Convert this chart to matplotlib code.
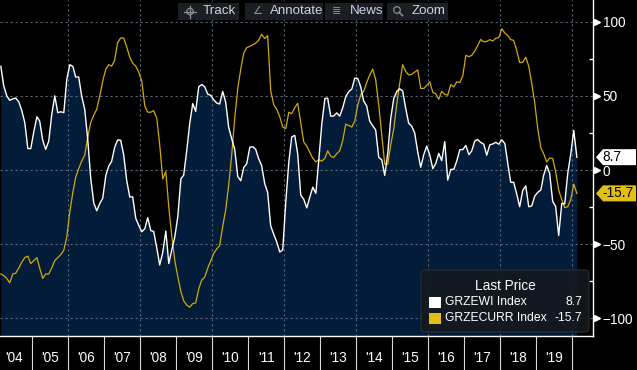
"""ZEW Germany: economic sentiment vs current situation, terminal-style chart."""
import pandas as pd
import matplotlib
matplotlib.use("Agg")
import matplotlib.pyplot as plt
import matplotlib.dates as mdates
import matplotlib.ticker as mticker
from matplotlib.patches import Polygon, FancyBboxPatch, Rectangle, Circle
from matplotlib.lines import Line2D
from matplotlib.transforms import blended_transform_factory, offset_copy, IdentityTransform

plt.rcParams["font.family"] = ["Liberation Sans", "DejaVu Sans"]

# monthly readings, Feb 2004 .. Feb 2020
zew_expect = [
    69.9, 57.0, 50.0, 47.0, 48.0, 48.5, 46.0, 40.0, 32.0, 14.5, 14.5,
    26.0, 35.9, 33.0, 20.1, 13.9, 19.5, 37.0, 50.0, 38.6, 39.3, 38.7, 61.1,
    71.0, 69.8, 62.7, 62.7, 50.0, 41.0, 21.3, -5.6, -22.2, -27.4, -22.5, -19.0,
    -3.6, 2.9, 5.8, 15.3, 20.3, 20.1, 10.4, -6.9, -18.1, -18.1, -32.5, -37.2,
    -41.6, -39.5, -32.0, -40.7, -41.4, -52.4, -63.9, -55.5, -41.1, -63.0, -53.5, -45.2,
    -31.0, -5.8, -3.5, 13.0, 31.1, 44.8, 39.5, 56.1, 57.7, 56.0, 51.1, 50.4,
    47.2, 45.1, 44.5, 53.0, 45.8, 28.7, 21.2, 14.0, -4.3, -7.2, 1.8, 4.3,
    15.4, 15.7, 14.1, 7.6, 3.1, -9.0, -15.1, -37.6, -43.3, -48.3, -55.2, -53.8,
    -21.6, 5.4, 22.3, 23.4, 10.8, -16.9, -19.6, -25.5, -18.2, -11.5, -15.7, 6.9,
    31.5, 48.2, 48.5, 36.3, 36.4, 38.5, 36.3, 42.0, 49.6, 52.8, 54.6, 62.0,
    61.7, 55.7, 46.6, 43.2, 33.1, 29.8, 27.1, 8.6, 6.9, -3.6, 11.5, 34.9,
    48.4, 53.0, 54.8, 53.3, 41.9, 31.5, 29.7, 25.0, 12.1, 1.9, 10.4, 16.1,
    10.2, 1.0, 4.3, 11.2, 6.4, 19.2, -6.8, 0.5, 0.5, 6.2, 13.8, 13.8,
    16.6, 10.4, 12.8, 19.5, 20.6, 18.6, 17.5, 10.0, 17.0, 17.6, 18.7, 17.4,
    20.4, 17.8, 5.1, -8.2, -8.2, -16.1, -24.7, -13.7, -10.6, -24.7, -24.1, -17.5,
    -15.0, -13.4, -3.6, 3.1, -2.1, -21.1, -24.5, -44.1, -22.5, -22.8, -2.1, 10.7,
    26.7, 8.7,
]
zew_current = [
    -70, -71, -73, -76, -70, -69.5, -66, -62, -59, -58, -63,
    -61, -59, -66, -73, -70, -70, -66, -61, -59, -57, -54, -45,
    -28, -15, -5, 1, 6, 10, 22, 32, 37, 41, 50, 60,
    68, 71, 70, 74, 86, 89, 89, 83, 76, 72, 70, 66,
    60, 43, 39, 39, 40, 35, 17, -6, -1, -25, -45, -61,
    -72, -82, -88, -91, -92.4, -90, -89.5, -80, -74, -72, -66, -61,
    -56, -53, -51, -38, -27, -10, 10, 35, 55, 68, 79, 82.5,
    83.4, 84.5, 85.5, 87.5, 91.5, 88.6, 90.6, 53.5, 44, 41, 36, 29,
    28, 39, 38, 42, 45, 32, 19, 16, 12, 8, 5.5, 7,
    6, 8, 13, 9.4, 8.5, 11, 13, 20, 31, 30, 29, 33,
    44, 51, 53, 59, 64, 68, 61, 44, 24, 4, 4, 17,
    28, 45, 58, 71, 66.5, 64, 64.5, 66, 67.5, 55, 55, 57,
    59.5, 52.3, 51.5, 47.7, 53.1, 51, 50.5, 57.6, 56, 59.5, 59, 63.5,
    77.3, 76.4, 77.3, 80.1, 83.9, 88.0, 86.4, 86.7, 87.9, 87.0, 88.8, 89.3,
    95.2, 92.3, 90.7, 87.9, 87.4, 80.6, 72.4, 72.6, 76.0, 70.1, 58.2, 45.3,
    27.6, 15.0, 11.1, 5.5, 8.2, 7.8, -1.1, -13.5, -19.9, -25.3, -24.7, -19.9,
    -9.5, -15.7,
]
series_names = ["GRZEWI Index", "GRZECURR Index"]
last_values = [8.7, -15.7]
year_labels = ["'04", "'05", "'06", "'07", "'08", "'09", "'10", "'11",
               "'12", "'13", "'14", "'15", "'16", "'17", "'18", "'19"]
y_ticks = [-100, -50, 0, 50, 100]
y_minor = [-75, -25, 25, 75]
toolbar = ["Track", "Annotate", "News", "Zoom"]

NAVY = "#021c3a"
GOLD = "#d2a90a"
TAG_GOLD = "#e2bf17"
GRID = "#5d6876"
ICON = "#8a9199"

dates = pd.date_range("2004-02-01", periods=len(zew_expect), freq="MS") + pd.Timedelta(days=14)
mid_years = pd.date_range("2004-07-01", periods=len(year_labels), freq="12MS")
even_years = pd.date_range("2006-01-01", "2020-01-01", freq="2YS")

W, H = 637, 370
fig = plt.figure(figsize=(W / 100, H / 100), dpi=100, facecolor="black")
ax = fig.add_axes([0, 34 / H, 593 / W, 336 / H], facecolor="black")

x0 = mdates.date2num(pd.Timestamp("2004-01-01"))
px_per_day = 36 / 365.25
ax.set_xlim(x0 + 3.6 / px_per_day, x0 + 596.6 / px_per_day)
ymin, ymax = -111.8, 114.6
ax.set_ylim(ymin, ymax)

ax.fill_between(dates, zew_expect, ymin, color=NAVY, lw=0, zorder=1)
for v in y_ticks:
    ax.axhline(v, color=GRID, lw=0.8, ls=(0, (2, 2.5)), zorder=2)
for d in even_years:
    ax.axvline(d, color=GRID, lw=0.8, ls=(0, (2, 2.5)), zorder=2)
ax.plot(dates, zew_current, color=GOLD, lw=0.9, zorder=3)
ax.plot(dates, zew_expect, color="white", lw=1.0, zorder=4)

for s in ["left", "top"]:
    ax.spines[s].set_visible(False)
for s in ["right", "bottom"]:
    ax.spines[s].set_color("white")
    ax.spines[s].set_linewidth(1)

# x axis: long separators at year starts, labels mid-year
ax.xaxis.set_major_locator(mdates.YearLocator(1))
ax.xaxis.set_major_formatter(mticker.NullFormatter())
ax.set_xticks(mid_years, minor=True)
ax.set_xticklabels(year_labels, minor=True)
ax.tick_params(axis="x", which="major", direction="out", length=24.5, width=0.8, color="#d8d8d8")
ax.tick_params(axis="x", which="minor", length=0, pad=11, labelcolor="white", labelsize=9.8)

# y axis on the right
ax.yaxis.tick_right()
ax.set_yticks(y_ticks)
ax.set_yticks(y_minor, minor=True)
ax.yaxis.set_major_formatter(mticker.FuncFormatter(lambda v, p: f"{v:g}".replace("-", "\u2212")))
ax.tick_params(axis="y", which="major", length=0, pad=7, labelcolor="white", labelsize=9.8)
ax.tick_params(axis="y", which="minor", direction="in", length=3, width=1, color="white")
tri = offset_copy(blended_transform_factory(ax.transAxes, ax.transData), fig=fig, x=3.5, y=0, units="dots")
ax.plot([1] * len(y_ticks), y_ticks, ls="none", marker=">", ms=5, color="white",
        transform=tri, clip_on=False, zorder=5)

ident = IdentityTransform()

# last price tags on the axis
for val, fc in zip(last_values, ["white", TAG_GOLD]):
    yd = ax.transData.transform((ax.get_xlim()[0], val))[1]
    pts = [(596, yd), (603, yd + 8), (636, yd + 8), (636, yd - 8), (603, yd - 8)]
    fig.add_artist(Polygon(pts, closed=True, transform=ident, fc=fc, ec="none", zorder=5))
    fig.text(602, yd, f"{val:g}", transform=ident, color="black", fontsize=9.8,
             ha="left", va="center", zorder=6)

# legend box
fig.add_artist(FancyBboxPatch((421, H - 332), 168, 62, boxstyle="round,pad=0,rounding_size=4",
                              transform=ident, fc="#15191e", ec="#2c3137", lw=0.8, alpha=0.9, zorder=5))
fig.text(505, H - 286, "Last Price", transform=ident, color="white", fontsize=9.8,
         ha="center", va="center", zorder=6)
for i, (name, val, col) in enumerate(zip(series_names, last_values, ["white", TAG_GOLD])):
    yc = H - 302 - 16 * i
    fig.add_artist(Rectangle((429, yc - 5.5), 12, 11, transform=ident, fc=col, ec="none", zorder=6))
    fig.text(445, yc, name, transform=ident, color="white", fontsize=8.7, ha="left", va="center", zorder=6)
    fig.text(582, yc, f"{val:g}", transform=ident, color="white", fontsize=8.7, ha="right", va="center", zorder=6)

# toolbar overlay
boxes = [(178, 61), (245, 78), (325, 58), (387, 61)]
yb = H - 11.5
for (bx, bw), label in zip(boxes, toolbar):
    fig.add_artist(Rectangle((bx, H - 20), bw, 17, transform=ident, fc="#1b1e23", ec="none", zorder=5))
    fig.text(bx + 25, yb, label, transform=ident, color="#c9d3e2", fontsize=9.6,
             ha="left", va="center", zorder=6)

# crosshair icon (no installed font has the glyph)
cx = 190
fig.add_artist(Circle((cx, yb), 3.2, transform=ident, fc="none", ec=ICON, lw=0.9, zorder=6))
fig.add_artist(Line2D([cx - 6, cx + 6], [yb, yb], transform=ident, color=ICON, lw=0.9, zorder=6))
fig.add_artist(Line2D([cx, cx], [yb - 6, yb + 6], transform=ident, color=ICON, lw=0.9, zorder=6))
# annotate and news icons
fig.text(257, yb, "\u2220", transform=ident, color=ICON, fontsize=8, family=["DejaVu Sans"],
         ha="center", va="center", zorder=6)
fig.text(337, yb, "\u2263", transform=ident, color=ICON, fontsize=8, family=["DejaVu Sans"],
         ha="center", va="center", zorder=6)
# magnifier icon
mx = 397
fig.add_artist(Circle((mx, yb + 1.5), 3.3, transform=ident, fc="none", ec=ICON, lw=0.9, zorder=6))
fig.add_artist(Line2D([mx + 2.4, mx + 5.5], [yb - 0.9, yb - 4.2], transform=ident, color=ICON, lw=1.1, zorder=6))

plt.savefig("out.png", dpi=100, facecolor="black")
plt.close()
